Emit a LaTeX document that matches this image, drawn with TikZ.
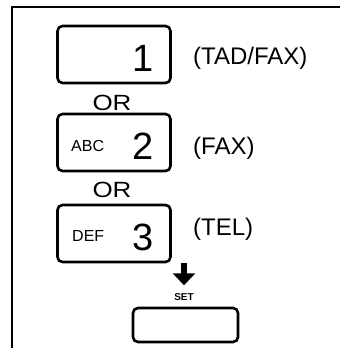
\documentclass[tikz,border=0pt]{standalone}
\usepackage{fontspec}
\setmainfont{Liberation Sans}
\usetikzlibrary{arrows.meta}

\tikzset{
    keybox/.style={draw,line width=2.6pt,rounded corners=5pt,minimum width=113pt,minimum height=57pt,inner sep=0pt},
    keynum/.style={anchor=east,inner sep=0pt,font=\fontsize{38}{38}\selectfont},
    keylet/.style={anchor=west,inner sep=0pt,font=\fontsize{16}{16}\selectfont},
    modetext/.style={anchor=west,inner sep=0pt,font=\fontsize{24}{24}\selectfont},
    ortext/.style={inner sep=0pt,font=\fontsize{22}{22}\selectfont}
}

\begin{document}
\begin{tikzpicture}[x=1pt,y=-1pt]
        \useasboundingbox (0,0) rectangle (340,348);
        \draw[line width=2pt] (12,348) -- (12,7) -- (340,7);
        \node[keybox] (key1) at (114,54.5) {};
        \node[keybox] (key2) at (114,142.5) {};
        \node[keybox] (key3) at (114,233.5) {};
        \node[keybox,minimum width=105pt,minimum height=34pt] (setkey) at (185.5,325) {};
        \node[keynum] (num1) at (154,58.5) {1};
        \node[keynum] (num2) at (154,146) {2};
        \node[keynum] (num3) at (154,237) {3};
        \node[keylet] (abc) at (71,146) {ABC};
        \node[keylet] (def) at (72,236) {DEF};
        \node[modetext] (tadfax) at (193,58) {(TAD/FAX)};
        \node[modetext] (fax) at (193,148) {(FAX)};
        \node[modetext] (tel) at (193,229) {(TEL)};
        \node[ortext] (or1) at (112,102.5) {\scalebox{1.18}[1]{OR}};
        \node[ortext] (or2) at (112,190) {\scalebox{1.18}[1]{OR}};
        \node[inner sep=0pt,font=\bfseries\fontsize{10}{10}\selectfont] (setlabel) at (184,297) {SET};
        \coordinate (arrowtop) at (184,263);
        \draw[line width=6pt,-{Triangle[width=22pt,length=12pt]},shorten >=8pt] (arrowtop) -- (setlabel.north);
    \end{tikzpicture}
\end{document}
